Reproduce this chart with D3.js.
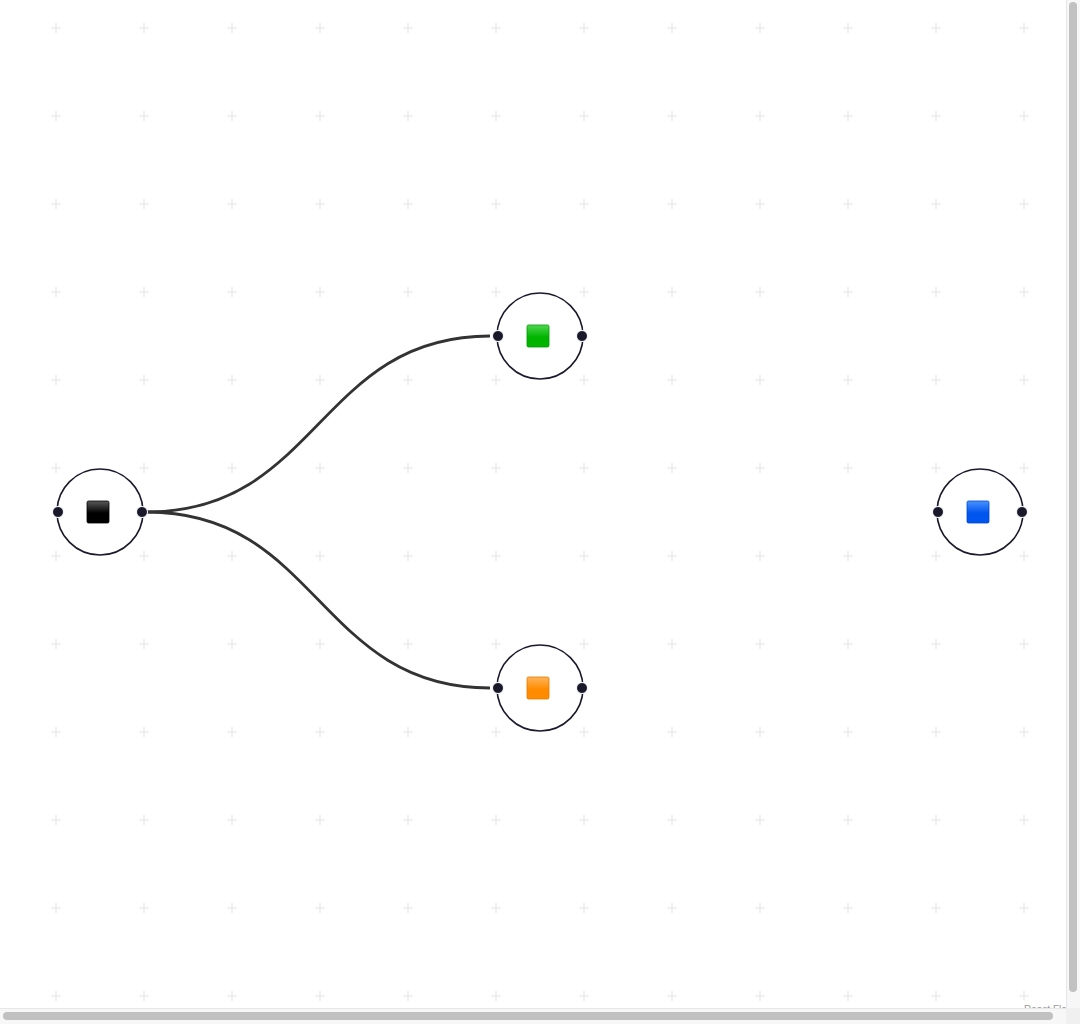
<!DOCTYPE html>
<html>
<head>
<meta charset="utf-8">
<script src="https://cdn.jsdelivr.net/npm/d3@7"></script>
<style>
  body { margin: 0; background: #fff; overflow: hidden; }
  svg { display: block; font-family: "Liberation Sans", Arial, sans-serif; }
</style>
</head>
<body>
<svg id="flow"></svg>
<script>
// nodes (flow coordinates) and edges
let nodeIds = ["black", "green", "orange", "blue"];
let nodeX = [0, 440, 440, 880];
let nodeY = [0, -176, 176, 0];
let edgeSource = ["black", "black"];
let edgeTarget = ["green", "orange"];

let iconColors = {
    "black": ["#5a5a5a", "#000000", "#000000"],
    "green": ["#4fd64f", "#00b400", "#009a00"],
    "orange": ["#ffb45a", "#ff8c00", "#e07a00"],
    "blue": ["#4a93ff", "#0055ee", "#0048cc"]
};

function drawFlow() {
    let width = 1080;
    let height = 1024;
    let svg = d3.select("#flow")
        .attr("width", width)
        .attr("height", height);

    svg.selectAll("*").remove();

    // шкалы: координаты потока -> пиксели
    let scaleX = d3.scaleLinear().domain([0, 880]).range([100, 980]);
    let scaleY = d3.scaleLinear().domain([-176, 176]).range([336, 688]);

    let defs = svg.append("defs");
    for (let id of nodeIds) {
        let g = defs.append("linearGradient")
            .attr("id", "grad-" + id)
            .attr("x1", 0).attr("y1", 0).attr("x2", 0).attr("y2", 1);
        g.append("stop").attr("offset", "0%").attr("stop-color", iconColors[id][0]);
        g.append("stop").attr("offset", "55%").attr("stop-color", iconColors[id][1]);
        g.append("stop").attr("offset", "100%").attr("stop-color", iconColors[id][1]);
    }

    // фон: сетка из крестиков
    let gridX = d3.range(-44, 1000, 88);
    let gridY = d3.range(-484, 500, 88);
    let grid = svg.append("g").attr("class", "grid");
    for (let gx of gridX) {
        for (let gy of gridY) {
            let px = scaleX(gx), py = scaleY(gy);
            grid.append("path")
                .attr("d", `M${px - 5},${py}H${px + 5}M${px},${py - 5}V${py + 5}`)
                .attr("stroke", "#e4e4e4")
                .attr("stroke-width", 1)
                .attr("fill", "none");
        }
    }

    let nodeIndex = id => nodeIds.indexOf(id);
    let radius = 43;

    // рёбра (кривые Безье как в React Flow)
    let edges = svg.append("g").attr("class", "edges");
    edgeSource.forEach((s, i) => {
        let si = nodeIndex(s), ti = nodeIndex(edgeTarget[i]);
        let sx = scaleX(nodeX[si]) + radius + 4, sy = scaleY(nodeY[si]);
        let tx = scaleX(nodeX[ti]) - radius - 7, ty = scaleY(nodeY[ti]);
        let off = (tx - sx) * 0.5;
        let p = d3.path();
        p.moveTo(sx, sy);
        p.bezierCurveTo(sx + off, sy, tx - off, ty, tx, ty);
        edges.append("path")
            .attr("d", p.toString())
            .attr("fill", "none")
            .attr("stroke", "#333333")
            .attr("stroke-width", 2.8);
    });

    // узлы
    let node = svg.selectAll(".node")
        .data(nodeIds)
        .enter()
        .append("g")
        .attr("class", "node")
        .attr("transform", (d, i) => `translate(${scaleX(nodeX[i])}, ${scaleY(nodeY[i])})`);

    node.append("circle")
        .attr("r", radius)
        .attr("fill", "#fff")
        .attr("stroke", "#1a192b")
        .attr("stroke-width", 1.6);

    node.append("rect")
        .attr("x", -13).attr("y", -11)
        .attr("width", 22).attr("height", 22)
        .attr("rx", 1.5)
        .attr("fill", d => `url(#grad-${d})`)
        .attr("stroke", d => iconColors[d][2])
        .attr("stroke-width", 0.8);

    for (let side of [-1, 1]) {
        node.append("circle")
            .attr("cx", side * (radius - 1))
            .attr("r", 5.5)
            .attr("fill", "#1a192b")
            .attr("stroke", "#fff")
            .attr("stroke-width", 1);
    }

    // подпись React Flow
    let attr = svg.append("g");
    attr.append("rect")
        .attr("x", 1020).attr("y", 1000).attr("width", 46).attr("height", 14)
        .attr("fill", "rgba(255,255,255,0.6)");
    attr.append("text")
        .attr("x", 1024).attr("y", 1013)
        .attr("font-size", 10)
        .attr("fill", "#999")
        .text("React Flow");

    // полосы прокрутки
    svg.append("rect").attr("x", 1066).attr("y", 0).attr("width", 14).attr("height", 1008)
        .attr("fill", "#f7f7f7");
    svg.append("line").attr("x1", 1066.5).attr("x2", 1066.5).attr("y1", 0).attr("y2", 1008)
        .attr("stroke", "#e6e6e6");
    svg.append("rect").attr("x", 1069).attr("y", 2).attr("width", 8).attr("height", 990)
        .attr("rx", 4).attr("fill", "#c1c1c1");

    svg.append("rect").attr("x", 0).attr("y", 1008).attr("width", 1080).attr("height", 16)
        .attr("fill", "#f7f7f7");
    svg.append("line").attr("x1", 0).attr("x2", 1080).attr("y1", 1008.5).attr("y2", 1008.5)
        .attr("stroke", "#e6e6e6");
    svg.append("rect").attr("x", 3).attr("y", 1012).attr("width", 1050).attr("height", 8)
        .attr("rx", 4).attr("fill", "#c1c1c1");
    svg.append("rect").attr("x", 1066).attr("y", 1008).attr("width", 14).attr("height", 16)
        .attr("fill", "#f0f0f0");
}

drawFlow();
</script>
</body>
</html>
